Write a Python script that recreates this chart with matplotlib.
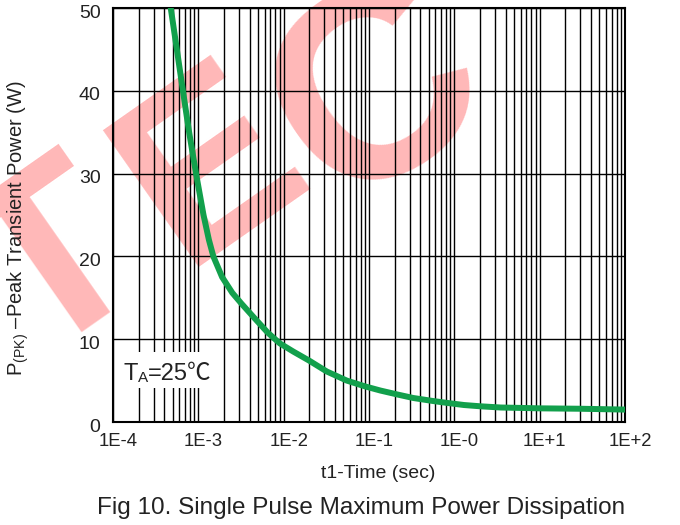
import matplotlib
matplotlib.use('Agg')
import matplotlib.pyplot as plt
import matplotlib.transforms as mtransforms
from matplotlib.patches import Rectangle
from matplotlib.ticker import LogLocator, NullFormatter
import numpy as np

plt.rcParams['font.family'] = ['Liberation Sans', 'Noto Sans CJK SC', 'DejaVu Sans']
plt.rcParams['mathtext.fontset'] = 'custom'
plt.rcParams['mathtext.rm'] = 'Liberation Sans'
plt.rcParams['mathtext.default'] = 'regular'

# ---- data ----
time_s = [4.75e-4, 5.6e-4, 6.6e-4, 7.8e-4, 9.4e-4, 1.15e-3, 1.33e-3, 1.5e-3,
          1.9e-3, 2.5e-3, 3.2e-3, 4.5e-3, 6.5e-3, 9.0e-3, 1.3e-2, 2.0e-2,
          3.2e-2, 5.5e-2, 9.0e-2, 0.136, 0.22, 0.33, 0.55, 0.83, 1.3, 2.0,
          3.5, 6.0, 10.0, 30.0, 100.0]
power_w = [50.0, 45.0, 40.0, 35.0, 30.0, 25.0, 22.0, 20.0,
           17.5, 15.6, 14.3, 12.6, 10.8, 9.5, 8.5, 7.4,
           6.1, 5.0, 4.3, 3.8, 3.3, 2.9, 2.55, 2.3, 2.05, 1.9,
           1.75, 1.7, 1.65, 1.6, 1.5]
x_ticks = [1e-4, 1e-3, 1e-2, 1e-1, 1e0, 1e1, 1e2]
x_tick_labels = ['1E-4', '1E-3', '1E-2', '1E-1', '1E-0', '1E+1', '1E+2']
y_ticks = [0, 10, 20, 30, 40, 50]
watermark_letters = ['T', 'E', 'C']

W, H = 680, 525
fig = plt.figure(figsize=(W / 100, H / 100), dpi=100, facecolor='white')
L, R, T, B = 113, 625, 8, 422
ax = fig.add_axes([L / W, 1 - B / H, (R - L) / W, (B - T) / H])
ax.set_facecolor('none')

ax.set_xscale('log')
ax.set_xlim(1e-4, 1e2)
ax.set_ylim(0, 50)
ax.set_xticks(x_ticks)
ax.set_xticklabels(x_tick_labels)
ax.xaxis.set_minor_locator(LogLocator(base=10, subs=np.arange(2, 10)))
ax.xaxis.set_minor_formatter(NullFormatter())
ax.set_yticks(y_ticks)

ax.set_axisbelow(True)
ax.grid(True, which='both', axis='x', color='black', lw=1.0)
ax.grid(True, which='major', axis='y', color='black', lw=1.0)
ax.tick_params(which='both', length=0)
ax.tick_params(axis='x', labelsize=13.3, pad=8, colors='#222222')
ax.tick_params(axis='y', labelsize=14, pad=9, colors='#222222')
for s in ax.spines.values():
    s.set_linewidth(1.5)
    s.set_color('black')

xshift = mtransforms.ScaledTranslation(0.05, 0, fig.dpi_scale_trans)
for lab in ax.get_xticklabels():
    lab.set_transform(lab.get_transform() + xshift)
yshift = mtransforms.ScaledTranslation(0, -0.03, fig.dpi_scale_trans)
for lab in ax.get_yticklabels():
    lab.set_transform(lab.get_transform() + yshift)

ax.plot(time_s, power_w, color='#12a04c', lw=4.3, zorder=3)

# white box behind annotation
ax.add_patch(Rectangle((0.01, 0.082), 0.185, 0.087, transform=ax.transAxes,
                       facecolor='white', edgecolor='none', zorder=1))
ax.text(0.02, 0.101, 'T', transform=ax.transAxes, fontsize=17,
        va='baseline', ha='left', color='#222222', zorder=4)
ax.annotate('A', xy=(0.02, 0.101), xycoords='axes fraction',
            xytext=(10.4, -1), textcoords='offset points', fontsize=11,
            va='baseline', ha='left', color='#222222', zorder=4)
ax.annotate('=25℃', xy=(0.02, 0.101), xycoords='axes fraction',
            xytext=(17.8, 0), textcoords='offset points', fontsize=17,
            va='baseline', ha='left', color='#222222', zorder=4)

fig.text(18 / W, 1 - 228 / H, r'P$_{(PK)}$ –Peak Transient Power (W)',
         rotation=90, ha='center', va='center', fontsize=14.5, color='#222222')
fig.text(378 / W, 1 - 474 / H, 't1-Time (sec)', ha='center', va='center',
         fontsize=14, color='#222222')
fig.text(361 / W, 1 - 508 / H, 'Fig 10. Single Pulse Maximum Power Dissipation',
         ha='center', va='center', fontsize=17.5, color='#222222')

# watermark (behind the transparent axes); anchors in image pixels
wm_anchor = [(95, 320, 'center', 175), (182.5, 267, 'left', 175),
             (340, 211, 'left', 195)]
for letter, (px, py, ha, fs) in zip(watermark_letters, wm_anchor):
    fig.text(px / W, 1 - py / H, letter, rotation=35, rotation_mode='anchor',
             ha=ha, va='baseline', fontsize=fs, fontweight='bold',
             color='#ffb8b8', zorder=-1)

fig.savefig('out.png', dpi=100, facecolor='white')
